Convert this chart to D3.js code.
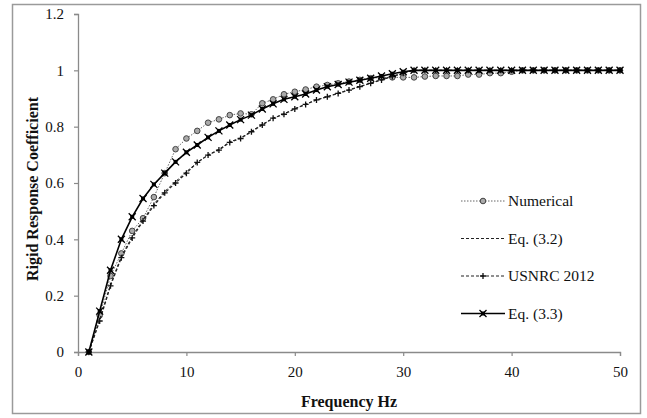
<!DOCTYPE html>
<html>
<head>
<meta charset="utf-8">
<script src="https://cdn.jsdelivr.net/npm/d3@7"></script>
<style>
  body { margin: 0; background: #fff; }
  svg text { font-family: "Liberation Serif", "Times New Roman", serif; }
</style>
</head>
<body>
<div id="chart"></div>
<script>
// frequency points (Hz)
var freq = d3.range(1, 51);

// series, one value per Hz
var numerical = [0, 0.13, 0.27, 0.35, 0.43, 0.475, 0.55, 0.635, 0.72, 0.758,
  0.785, 0.814, 0.826, 0.841, 0.847, 0.844, 0.883, 0.897, 0.915, 0.924,
  0.932, 0.942, 0.948, 0.954, 0.96, 0.966, 0.972, 0.975, 0.975, 0.975,
  0.975, 0.978, 0.98, 0.98, 0.98, 0.985, 0.985, 0.99, 0.99, 0.995,
  1, 1, 1, 1, 1, 1, 1, 1, 1, 1];

var eq32 = [0, 0.115, 0.24, 0.34, 0.41, 0.47, 0.525, 0.57, 0.605, 0.64,
  0.673, 0.699, 0.72, 0.746, 0.76, 0.784, 0.808, 0.83, 0.846, 0.864,
  0.88, 0.895, 0.907, 0.919, 0.931, 0.943, 0.955, 0.967, 0.979, 0.99,
  1, 1, 1, 1, 1, 1, 1, 1, 1, 1,
  1, 1, 1, 1, 1, 1, 1, 1, 1, 1];

var usnrc = [0, 0.11, 0.235, 0.335, 0.405, 0.465, 0.52, 0.565, 0.6, 0.635,
  0.673, 0.699, 0.717, 0.744, 0.758, 0.782, 0.806, 0.83, 0.844, 0.863,
  0.879, 0.895, 0.906, 0.918, 0.93, 0.942, 0.954, 0.966, 0.978, 0.99,
  1, 1, 1, 1, 1, 1, 1, 1, 1, 1,
  1, 1, 1, 1, 1, 1, 1, 1, 1, 1];

var eq33 = [0, 0.145, 0.29, 0.4, 0.48, 0.545, 0.595, 0.635, 0.675, 0.709,
  0.735, 0.762, 0.785, 0.806, 0.825, 0.841, 0.863, 0.881, 0.897, 0.906,
  0.916, 0.93, 0.942, 0.95, 0.958, 0.965, 0.972, 0.98, 0.988, 0.995,
  1, 1, 1, 1, 1, 1, 1, 1, 1, 1,
  1, 1, 1, 1, 1, 1, 1, 1, 1, 1];

var xTicks = [0, 10, 20, 30, 40, 50];
var yTicks = [0, 0.2, 0.4, 0.6, 0.8, 1, 1.2];

var legendNames = ['Numerical', 'Eq. (3.2)', 'USNRC 2012', 'Eq. (3.3)'];

var width = 647;
var height = 418;
var margin = { top: 14, right: 27, bottom: 66, left: 78 };
var w = width - margin.left - margin.right;
var h = height - margin.top - margin.bottom;

var svg = d3.select('#chart').append('svg')
  .attr('width', width).attr('height', height);

// outer frame
svg.append('rect')
  .attr('x', 12.5).attr('y', 4.5)
  .attr('width', 628).attr('height', 409)
  .attr('fill', 'none').attr('stroke', '#9a9a9a').attr('stroke-width', 1.5);

var g = svg.append('g')
  .attr('transform', 'translate(' + margin.left + ',' + margin.top + ')');

var x = d3.scaleLinear().domain([0, 50]).range([0, w]);
var y = d3.scaleLinear().domain([0, 1.2]).range([h, 0]);

// axes
var xAxis = g.append('g')
  .attr('transform', 'translate(0,' + h + ')')
  .call(d3.axisBottom(x).tickValues(xTicks).tickSize(4).tickPadding(10));
var yAxis = g.append('g')
  .call(d3.axisLeft(y).tickValues(yTicks).tickSize(4).tickPadding(10)
    .tickFormat(function(d) { return d3.format('~g')(d); }));

[xAxis, yAxis].forEach(function(a) {
  a.attr('font-family', null);
  a.select('.domain').attr('stroke', '#8a8a8a').attr('stroke-width', 1.3);
  a.selectAll('.tick line').attr('stroke', '#8a8a8a').attr('stroke-width', 1.2);
  a.selectAll('.tick text')
    .attr('fill', '#111')
    .style('font-size', '15px');
});

// axis titles
svg.append('text')
  .attr('x', margin.left + w / 2).attr('y', 407)
  .attr('text-anchor', 'middle')
  .attr('fill', '#111')
  .style('font-size', '16px').style('font-weight', 'bold')
  .text('Frequency Hz');

svg.append('text')
  .attr('transform', 'translate(38,' + (margin.top + h / 2 + 6) + ') rotate(-90)')
  .attr('text-anchor', 'middle')
  .attr('fill', '#111')
  .style('font-size', '16px').style('font-weight', 'bold')
  .text('Rigid Response  Coefficient');

var line = d3.line()
  .x(function(d, i) { return x(freq[i]); })
  .y(function(d) { return y(d); });

// series styles
var series = [
  { name: legendNames[0], values: numerical, stroke: '#666', width: 1, dash: '1.5,1.5', marker: 'circle' },
  { name: legendNames[1], values: eq32, stroke: '#222', width: 1, dash: '3,2', marker: null },
  { name: legendNames[2], values: usnrc, stroke: '#222', width: 1.2, dash: '3,2', marker: 'plus' },
  { name: legendNames[3], values: eq33, stroke: '#000', width: 1.6, dash: null, marker: 'star' }
];

function drawMarker(sel, type, cx, cy) {
  if (type === 'circle') {
    sel.append('circle')
      .attr('cx', cx).attr('cy', cy).attr('r', 2.8)
      .attr('fill', '#aaa').attr('stroke', '#444').attr('stroke-width', 1);
  } else if (type === 'plus') {
    sel.append('path')
      .attr('d', 'M' + (cx - 3) + ',' + cy + 'H' + (cx + 3) + 'M' + cx + ',' + (cy - 3) + 'V' + (cy + 3))
      .attr('stroke', '#111').attr('stroke-width', 1.3);
  } else if (type === 'star') {
    sel.append('path')
      .attr('d', 'M' + (cx - 3.5) + ',' + (cy - 3.5) + 'L' + (cx + 3.5) + ',' + (cy + 3.5) +
        'M' + (cx - 3.5) + ',' + (cy + 3.5) + 'L' + (cx + 3.5) + ',' + (cy - 3.5))
      .attr('stroke', '#000').attr('stroke-width', 1.3);
    sel.append('rect')
      .attr('x', cx - 2).attr('y', cy - 2).attr('width', 4).attr('height', 4)
      .attr('fill', '#000');
  }
}

series.forEach(function(s) {
  var sg = g.append('g');
  sg.append('path')
    .datum(s.values)
    .attr('d', line)
    .attr('fill', 'none')
    .attr('stroke', s.stroke)
    .attr('stroke-width', s.width)
    .attr('stroke-dasharray', s.dash);
  if (s.marker) {
    s.values.forEach(function(v, i) {
      drawMarker(sg, s.marker, x(freq[i]), y(v));
    });
  }
});

// legend
var legend = svg.append('g');
series.forEach(function(s, i) {
  var ly = 201 + i * 37.5;
  var lg = legend.append('g');
  lg.append('line')
    .attr('x1', 461).attr('x2', 505).attr('y1', ly).attr('y2', ly)
    .attr('stroke', s.stroke).attr('stroke-width', s.width)
    .attr('stroke-dasharray', s.dash);
  if (s.marker) drawMarker(lg, s.marker, 483, ly);
  lg.append('text')
    .attr('x', 508).attr('y', ly + 5)
    .style('font-size', '15.5px')
    .attr('fill', '#111')
    .text(s.name);
});
</script>
</body>
</html>
